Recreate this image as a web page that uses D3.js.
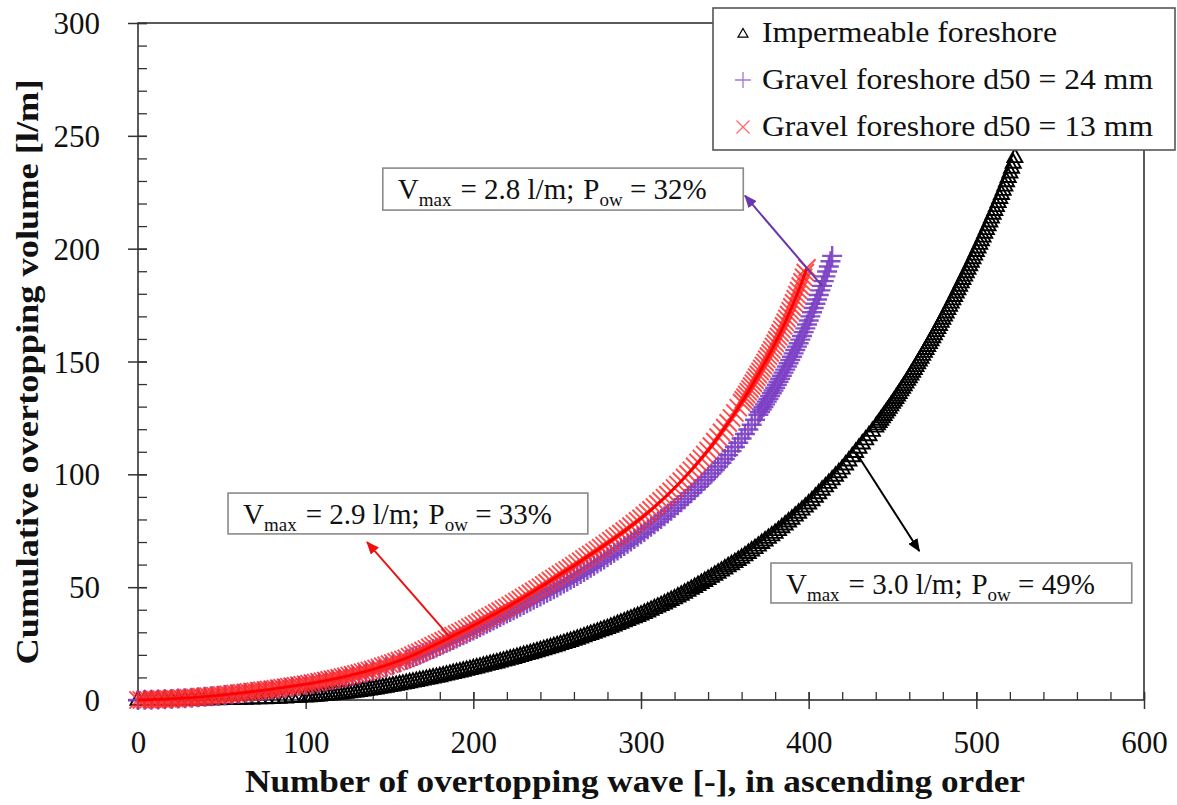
<!DOCTYPE html>
<html>
<head>
<meta charset="utf-8">
<script src="https://cdn.jsdelivr.net/npm/d3@7"></script>
<style>
  html, body { margin: 0; padding: 0; background: #ffffff; }
  svg { display: block; }
</style>
</head>
<body>
<script>
// Cumulative overtopping volume per wave, waves ranked in ascending order of volume.

// Impermeable foreshore
const impermeableWave = [0,4,8,12,16,20,24,28,32,36,40,44,48,52,56,60,64,68,72,76,80,84,88,92,96,
  100,102,104,106,108,110,112,114,116,118,120,122,124,126,128,130,132,134,136,138,140,142,144,146,148,150,152,154,156,158,160,162,164,166,168,170,172,174,176,178,180,182,184,186,188,190,192,194,196,198,200,
  202,204,206,208,210,212,214,216,218,220,222,224,226,228,230,232,234,236,238,240,242,244,246,248,250,252,254,256,258,260,262,264,266,268,270,272,274,276,278,280,282,284,286,288,290,292,294,296,298,300,
  302,304,306,308,310,312,314,316,318,320,322,324,326,328,330,332,334,336,338,340,342,344,346,348,350,352,354,356,358,360,362,364,366,368,370,372,374,376,378,380,382,384,386,388,390,392,394,396,398,400,
  402,404,406,408,410,412,414,416,418,420,422,424,426,428,430,432,434,436,438,440,
  441,442,443,444,445,446,447,448,449,450,451,452,453,454,455,456,457,458,459,460,461,462,463,464,465,466,467,468,469,470,
  471,472,473,474,475,476,477,478,479,480,481,482,483,484,485,486,487,488,489,490,491,492,493,494,495,496,497,498,499,500,
  501,502,503,504,505,506,507,508,509,510,511,512,513,514,515,516,517,518,519,520,521,522,523];
const impermeableVolume = [0,0.01,0.02,0.02,0.03,0.05,0.07,0.09,0.12,0.16,0.2,0.24,0.29,0.34,0.39,0.45,0.52,0.6,0.68,0.76,0.85,0.97,1.09,1.22,1.36,
  1.5,1.61,1.72,1.84,1.97,2.1,2.23,2.36,2.5,2.65,2.8,2.98,3.16,3.35,3.55,3.75,3.95,4.16,4.37,4.58,4.8,5.06,5.32,5.58,5.85,6.12,6.4,6.67,6.95,7.22,7.5,7.8,8.1,8.4,8.7,9.0,9.3,9.6,9.9,10.2,10.5,10.85,11.2,11.55,11.9,12.25,12.6,12.95,13.3,13.65,14.0,
  14.37,14.73,15.1,15.5,15.9,16.25,16.6,17.0,17.4,17.8,18.2,18.6,19.0,19.45,19.9,20.3,20.7,21.1,21.55,22.0,22.45,22.9,23.3,23.75,24.2,24.7,25.15,25.65,26.1,26.6,27.1,27.6,28.15,28.7,29.2,29.7,30.25,30.8,31.3,31.8,32.4,33.0,33.6,34.2,34.8,35.4,36.0,36.6,37.2,37.8,
  38.5,39.2,39.9,40.65,41.35,42.0,42.7,43.5,44.3,45.0,45.8,46.6,47.45,48.3,49.2,50.05,50.9,51.8,52.7,53.6,54.5,55.45,56.35,57.3,58.25,59.2,60.1,61.05,62.0,63.0,64.05,65.1,66.2,67.25,68.35,69.5,70.65,71.8,72.9,74.0,75.25,76.5,77.75,79.05,80.3,81.65,82.95,84.3,85.65,87.0,
  88.5,90.05,91.6,93.1,94.6,96.15,97.7,99.3,100.9,102.5,104.3,106.1,108.0,109.85,111.75,113.6,115.45,117.3,119.2,121.1,
  122.1,123.1,124.15,125.2,126.25,127.3,128.35,129.4,130.5,131.6,132.7,133.8,134.9,136.0,137.15,138.3,139.45,140.6,141.8,143.0,144.2,145.4,146.65,147.9,149.15,150.4,151.65,152.9,154.2,155.5,
  156.8,158.1,159.4,160.7,162.05,163.4,164.75,166.1,167.5,168.9,170.3,171.7,173.15,174.6,176.05,177.5,179.0,180.5,182.0,183.5,185.0,186.5,188.0,189.5,191.05,192.6,194.15,195.7,197.3,198.9,
  200.5,202.1,203.7,205.3,207.0,208.6,210.3,212.0,213.7,215.4,217.1,218.8,220.6,222.4,224.2,226.0,227.9,229.8,231.7,233.7,235.8,238.0,240.5];

// Gravel foreshore, d50 = 24 mm
const gravel24Wave = [0,4,8,12,16,20,24,28,32,36,40,44,48,52,56,60,64,68,72,76,80,84,88,92,96,100,104,108,112,116,120,124,128,132,136,140,144,148,152,156,160,
  162,164,166,168,170,172,174,176,178,180,182,184,186,188,190,192,194,196,198,200,202,204,206,208,210,212,214,216,218,220,222,224,226,228,230,232,234,236,238,240,242,244,246,248,250,252,254,256,258,260,
  262,264,266,268,270,272,274,276,278,280,282,284,286,288,290,292,294,296,298,300,302,304,306,308,310,312,314,316,318,320,322,324,326,328,330,332,334,336,338,340,342,344,346,348,350,352,354,356,358,360,
  362,364,366,368,370,
  371,372,373,374,375,376,377,378,379,380,381,382,383,384,385,386,387,388,389,390,391,392,393,394,395,396,397,398,399,400,401,402,403,404,405,406,407,408,409,410,411,412,413,414];
const gravel24Volume = [0,0.08,0.16,0.25,0.36,0.48,0.64,0.81,1.0,1.2,1.4,1.65,1.92,2.19,2.48,2.8,3.12,3.44,3.78,4.14,4.5,4.9,5.3,5.72,6.16,6.6,7.12,7.64,8.18,8.75,9.35,9.95,10.6,11.3,12.05,12.8,13.68,14.6,15.6,16.65,17.8,
  18.35,18.9,19.5,20.1,20.7,21.35,22.0,22.6,23.25,23.9,24.6,25.25,25.95,26.6,27.3,28.0,28.65,29.35,30.1,30.8,31.5,32.25,33.0,33.75,34.5,35.25,36.0,36.8,37.55,38.3,39.05,39.8,40.6,41.35,42.1,42.85,43.6,44.4,45.15,45.9,46.7,47.5,48.3,49.1,49.9,50.75,51.6,52.4,53.25,54.1,
  54.95,55.85,56.7,57.65,58.6,59.5,60.45,61.4,62.3,63.25,64.2,65.2,66.2,67.2,68.2,69.2,70.25,71.3,72.35,73.45,74.5,75.65,76.8,77.9,79.05,80.2,81.4,82.6,83.85,85.1,86.35,87.65,89.0,90.35,91.7,93.1,94.5,95.9,97.4,98.85,100.35,101.9,103.5,105.1,106.8,108.5,110.3,112.1,114.0,115.9,
  117.9,119.9,122.0,124.2,126.4,
  127.55,128.7,129.85,131.0,132.2,133.4,134.65,135.9,137.15,138.4,139.7,141.0,142.35,143.7,145.05,146.4,147.8,149.2,150.65,152.1,153.6,155.1,156.6,158.1,159.7,161.3,163.0,164.7,166.4,168.2,170.0,171.8,173.7,175.6,177.5,179.5,181.5,183.5,185.6,187.7,189.9,192.1,194.4,196.8];

// Gravel foreshore, d50 = 13 mm
const gravel13Wave = [0,2,4,6,8,10,12,14,16,18,20,22,24,26,28,30,32,34,36,38,40,42,44,46,48,50,52,54,56,58,60,62,64,66,68,70,72,74,76,78,80,82,84,86,88,90,92,94,96,98,
  100,102,104,106,108,110,112,114,116,118,120,122,124,126,128,130,132,134,136,138,140,142,144,146,148,150,152,154,156,158,160,
  162,164,166,168,170,172,174,176,178,180,182,184,186,188,190,192,194,196,198,200,202,204,206,208,210,212,214,216,218,220,222,224,226,228,230,232,234,236,238,240,242,244,246,248,250,252,254,256,258,260,
  262,264,266,268,270,272,274,276,278,280,282,284,286,288,290,292,294,296,298,300,302,304,306,308,310,312,314,316,318,320,322,324,326,328,330,332,334,336,338,340,342,344,346,348,350,352,354,356,358,360,
  361,362,363,364,365,366,367,368,369,370,371,372,373,374,375,376,377,378,379,380,381,382,383,384,385,386,387,388,389,390,391,392,393,394,395,396,397,398,399];
const gravel13Volume = [0,0.04,0.08,0.12,0.17,0.22,0.27,0.32,0.38,0.44,0.5,0.59,0.68,0.77,0.86,0.95,1.05,1.15,1.26,1.38,1.5,1.64,1.78,1.92,2.06,2.21,2.36,2.52,2.68,2.84,3.0,3.18,3.36,3.54,3.72,3.9,4.08,4.26,4.44,4.62,4.8,5.02,5.24,5.46,5.68,5.9,6.12,6.34,6.56,6.78,
  7.0,7.26,7.52,7.8,8.07,8.35,8.63,8.92,9.2,9.5,9.8,10.14,10.48,10.84,11.2,11.56,11.93,12.32,12.7,13.1,13.5,13.96,14.42,14.91,15.4,15.9,16.4,16.92,17.45,17.98,18.5,
  19.15,19.85,20.55,21.2,21.9,22.6,23.35,24.05,24.8,25.5,26.2,26.95,27.7,28.45,29.2,29.95,30.7,31.5,32.25,33.0,33.8,34.6,35.4,36.2,37.0,37.8,38.6,39.4,40.2,41.0,41.9,42.75,43.65,44.5,45.4,46.3,47.25,48.15,49.1,50.0,50.95,51.9,52.9,53.85,54.8,55.75,56.7,57.6,58.55,59.5,
  60.5,61.5,62.5,63.5,64.5,65.5,66.5,67.5,68.5,69.5,70.55,71.65,72.7,73.75,74.85,75.9,77.05,78.2,79.4,80.5,81.75,83.0,84.25,85.55,86.9,88.25,89.6,91.0,92.45,93.95,95.5,97.0,98.6,100.2,101.85,103.55,105.3,107.05,108.8,110.6,112.5,114.5,116.5,118.6,120.7,122.8,125.0,127.2,129.5,131.8,
  133.0,134.2,135.4,136.6,137.85,139.1,140.4,141.7,143.0,144.3,145.6,146.9,148.25,149.6,151.0,152.4,153.8,155.2,156.65,158.1,159.6,161.1,162.6,164.2,165.8,167.4,169.1,170.8,172.5,174.2,176.0,177.8,179.6,181.5,183.4,185.3,187.3,189.4,191.5];

const xTicks = [0, 100, 200, 300, 400, 500, 600];
const yTicks = [0, 50, 100, 150, 200, 250, 300];
const xMinorTicks = d3.range(0, 601, 20);
const yMinorTicks = d3.range(0, 301, 10);

const seriesNames = ["Impermeable foreshore", "Gravel foreshore d50 = 24 mm", "Gravel foreshore d50 = 13 mm"];
const seriesColors = ["#000000", "#7b3fc4", "#ff2a2a"];

// Annotation values: maximum single-wave volume and percentage of overtopping waves
const annVmax = ["2.8", "2.9", "3.0"];
const annPow = ["32", "33", "49"];
const annColors = ["#6a35b0", "#ee1111", "#000000"];
// box corners [wave0, wave1, vol top, vol bottom]; arrow from a curve point to its box
const annBox = [[146, 361, 235.7, 217.1], [53.7, 268.3, 91.7, 73.6], [377.5, 592.7, 60.7, 43]];
const annArrow = [[[408, 183.5], [362, 223.5]], [[186, 28], [136.6, 70]], [[428, 110], [466, 66]]];

const FONT = "'Liberation Serif', 'Times New Roman', Times, serif";
const W = 1177, H = 805;
const svg = d3.select("body").append("svg").attr("width", W).attr("height", H)
  .attr("font-family", FONT);

const x = d3.scaleLinear().domain([0, 600]).range([138, 1144]);
const y = d3.scaleLinear().domain([0, 300]).range([700, 23]);

const frameColor = "#333333";

// y minor ticks (inside), major ticks (crossing)
const yMinor = svg.append("g").attr("transform", `translate(${x(0)},0)`)
  .call(d3.axisLeft(y).tickValues(yMinorTicks).tickSize(-9).tickFormat(""));
yMinor.select(".domain").remove();
yMinor.selectAll("line").attr("stroke", frameColor).attr("stroke-width", 1.3);

const yMajor = svg.append("g").attr("transform", `translate(${x(0)},0)`)
  .call(d3.axisLeft(y).tickValues(yTicks).tickSize(10).tickPadding(28));
yMajor.attr("font-family", FONT);
yMajor.select(".domain").remove();
yMajor.selectAll("line").attr("x1", 9).attr("stroke", frameColor).attr("stroke-width", 1.5);
yMajor.selectAll("text").attr("font-size", 31).attr("font-family", FONT)
  .attr("fill", "#111").attr("dy", "0.34em");

const xMinor = svg.append("g").attr("transform", `translate(0,${y(0)})`)
  .call(d3.axisBottom(x).tickValues(xMinorTicks).tickSize(-8).tickFormat(""));
xMinor.select(".domain").remove();
xMinor.selectAll("line").attr("stroke", frameColor).attr("stroke-width", 1.3);

const xMajor = svg.append("g").attr("transform", `translate(0,${y(0)})`)
  .call(d3.axisBottom(x).tickValues(xTicks).tickSize(9).tickPadding(22));
xMajor.attr("font-family", FONT);
xMajor.select(".domain").remove();
xMajor.selectAll("line").attr("y1", -8).attr("stroke", frameColor).attr("stroke-width", 1.5);
xMajor.selectAll("text").attr("font-size", 31).attr("font-family", FONT)
  .attr("fill", "#111");

// plot frame
svg.append("rect")
  .attr("x", x(0)).attr("y", y(300))
  .attr("width", x(600) - x(0)).attr("height", y(0) - y(300))
  .attr("fill", "none").attr("stroke", frameColor).attr("stroke-width", 1.6);

// axis titles
svg.append("text")
  .attr("x", 635).attr("y", 792)
  .attr("text-anchor", "middle").attr("font-family", FONT)
  .attr("font-size", 32).attr("font-weight", "bold").attr("fill", "#111")
  .attr("textLength", 780).attr("lengthAdjust", "spacingAndGlyphs")
  .text("Number of overtopping wave [-], in ascending order");

svg.append("text")
  .attr("transform", "translate(38,372) rotate(-90)")
  .attr("text-anchor", "middle").attr("font-family", FONT)
  .attr("font-size", 32).attr("font-weight", "bold").attr("fill", "#111")
  .attr("textLength", 585).attr("lengthAdjust", "spacingAndGlyphs")
  .text("Cumulative overtopping volume [l/m]");

// marker shapes
const triPath = "M0,-8.6L7.5,4.9L-7.5,4.9Z";
const plusPath = "M-10,0H10M0,-10V10";
const crossPath = "M-8.6,-8.6L8.6,8.6M-8.6,8.6L8.6,-8.6";

const toPoints = (waves, vols) => waves.map((n, i) => ({ n: n, v: vols[i] }));
const impermeable = toPoints(impermeableWave, impermeableVolume);
const gravel24 = toPoints(gravel24Wave, gravel24Volume);
const gravel13 = toPoints(gravel13Wave, gravel13Volume);

const plot = svg.append("g");

plot.append("g").selectAll("path").data(impermeable).join("path")
  .attr("d", triPath)
  .attr("transform", d => `translate(${x(d.n)},${y(d.v)})`)
  .attr("fill", "none").attr("stroke", seriesColors[0]).attr("stroke-width", 1.9);

plot.append("g").selectAll("path").data(gravel24).join("path")
  .attr("d", plusPath)
  .attr("transform", d => `translate(${x(d.n)},${y(d.v)})`)
  .attr("fill", "none").attr("stroke", seriesColors[1]).attr("stroke-width", 2.4)
  .attr("stroke-opacity", 0.9);

plot.append("g").selectAll("path").data(gravel13).join("path")
  .attr("d", crossPath)
  .attr("transform", d => `translate(${x(d.n)},${y(d.v)})`)
  .attr("fill", "none").attr("stroke", seriesColors[2]).attr("stroke-width", 1.9)
  .attr("stroke-opacity", 0.85);

plot.append("path").datum(gravel13)
  .attr("d", d3.line().x(d => x(d.n)).y(d => y(d.v)))
  .attr("fill", "none").attr("stroke", "#ff0000").attr("stroke-width", 2.8);

// annotations
const defs = svg.append("defs");
annColors.forEach((c, i) => {
  defs.append("marker")
    .attr("id", "head" + i)
    .attr("viewBox", "0 -5 12 10")
    .attr("refX", 11).attr("refY", 0)
    .attr("markerUnits", "userSpaceOnUse")
    .attr("markerWidth", 13).attr("markerHeight", 11)
    .attr("orient", "auto")
    .append("path").attr("d", "M0,-5L12,0L0,5Z").attr("fill", c);
});

annBox.forEach((b, i) => {
  const bx0 = x(b[0]), bx1 = x(b[1]), by0 = y(b[2]), by1 = y(b[3]);
  svg.append("rect")
    .attr("x", bx0).attr("y", by0)
    .attr("width", bx1 - bx0).attr("height", by1 - by0)
    .attr("fill", "#ffffff").attr("stroke", "#8a8a8a").attr("stroke-width", 1.6);
  const t = svg.append("text")
    .attr("x", bx0 + 15).attr("y", by0 + 31)
    .attr("font-family", FONT).attr("font-size", 29).attr("fill", "#111");
  t.append("tspan").text("V");
  t.append("tspan").attr("font-size", 19).attr("dy", 7).text("max");
  t.append("tspan").attr("dy", -7).attr("dx", 9).text("= " + annVmax[i] + " l/m;");
  t.append("tspan").attr("dx", 9).text("P");
  t.append("tspan").attr("font-size", 19).attr("dy", 7).text("ow");
  t.append("tspan").attr("dy", -7).text(" = " + annPow[i] + "%");

  const a = annArrow[i];
  svg.append("line")
    .attr("x1", x(a[0][0])).attr("y1", y(a[0][1]))
    .attr("x2", x(a[1][0])).attr("y2", y(a[1][1]))
    .attr("stroke", annColors[i]).attr("stroke-width", 2)
    .attr("marker-end", `url(#head${i})`);
});

// legend
const legend = svg.append("g");
legend.append("rect")
  .attr("x", 713).attr("y", 8).attr("width", 462).attr("height", 142)
  .attr("fill", "#ffffff").attr("stroke", "#555555").attr("stroke-width", 1.6);

const legendShapes = ["M0,-5.5L5,3.2L-5,3.2Z", "M-8,0H8M0,-8V8", "M-6.5,-6.5L6.5,6.5M-6.5,6.5L6.5,-6.5"];
const legendWidths = [295, 391, 391];
seriesNames.forEach((name, i) => {
  const cy = 33 + i * 47;
  legend.append("path")
    .attr("d", legendShapes[i])
    .attr("transform", `translate(743,${cy + (i === 0 ? 1 : 0)})`)
    .attr("fill", "none").attr("stroke", seriesColors[i])
    .attr("stroke-width", i === 0 ? 1.2 : 1.3).attr("stroke-opacity", i === 0 ? 1 : 0.7);
  legend.append("text")
    .attr("x", 762).attr("y", cy + 9)
    .attr("font-family", FONT).attr("font-size", 29).attr("fill", "#111")
    .attr("textLength", legendWidths[i]).attr("lengthAdjust", "spacingAndGlyphs")
    .text(name);
});
</script>
</body>
</html>
